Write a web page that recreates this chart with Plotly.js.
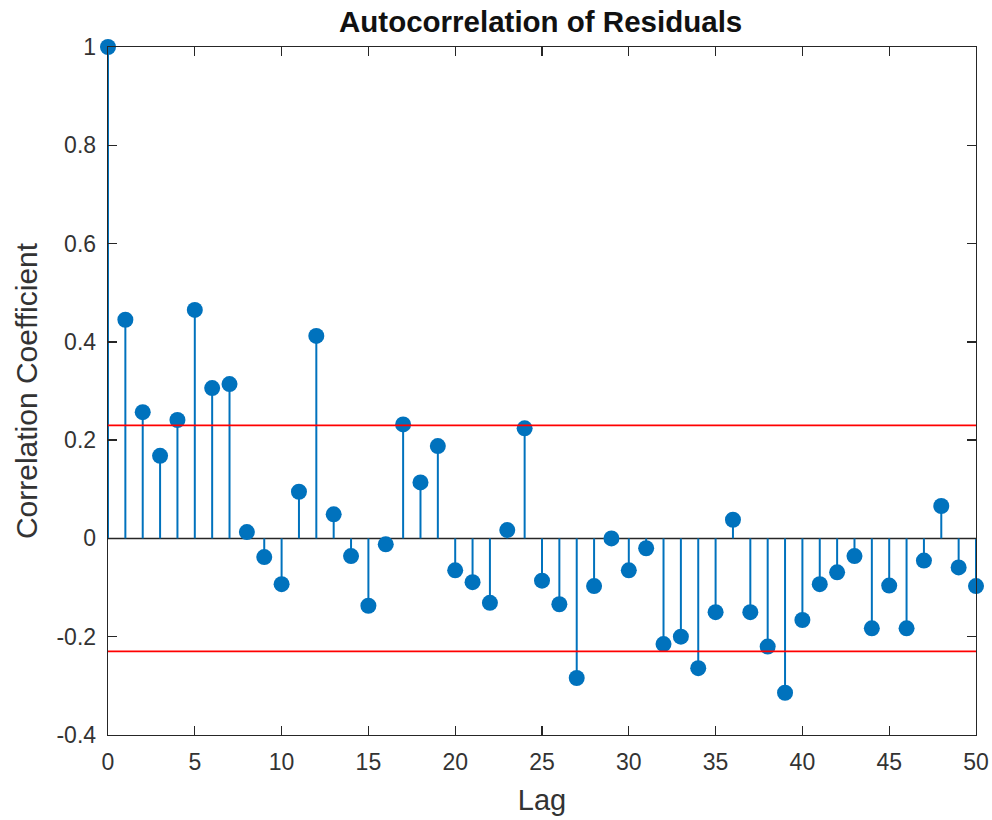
<!DOCTYPE html>
<html>
<head>
<meta charset="utf-8">
<script src="https://cdn.plot.ly/plotly-3.0.1.min.js"></script>
<style>html,body{margin:0;padding:0;background:#fff;}#chart{width:992px;height:820px;}</style>
</head>
<body>
<div id="chart"></div>
<script>
var lags = [];
for (var i = 0; i <= 50; i++) lags.push(i);
var acf = [1.000, 0.445, 0.257, 0.168, 0.241, 0.465, 0.306, 0.314, 0.013, -0.038,
           -0.093, 0.095, 0.412, 0.049, -0.036, -0.137, -0.012, 0.232, 0.114, 0.188,
           -0.065, -0.089, -0.131, 0.017, 0.224, -0.086, -0.134, -0.284, -0.097, 0.000,
           -0.065, -0.020, -0.215, -0.200, -0.264, -0.150, 0.038, -0.150, -0.220, -0.314,
           -0.166, -0.093, -0.069, -0.036, -0.183, -0.096, -0.183, -0.045, 0.066, -0.059,
           -0.097];
var confBound = 0.23;
var xTicks = [0, 5, 10, 15, 20, 25, 30, 35, 40, 45, 50];
var yTicks = [-0.4, -0.2, 0, 0.2, 0.4, 0.6, 0.8, 1];
var yTickText = ['-0.4', '-0.2', '0', '0.2', '0.4', '0.6', '0.8', '1'];

var blue = '#0072BD';
var axisCol = '#262626';

var stemX = [], stemY = [];
for (var k = 0; k < lags.length; k++) {
  stemX.push(lags[k], lags[k], null);
  stemY.push(0, acf[k], null);
}

var traces = [
  {x: stemX, y: stemY, type: 'scatter', mode: 'lines',
   line: {color: blue, width: 2}, hoverinfo: 'skip', showlegend: false, cliponaxis: false},
  {x: lags, y: acf, type: 'scatter', mode: 'markers',
   marker: {color: blue, size: 16, line: {width: 0}}, showlegend: false, cliponaxis: false}
];

var layout = {
  width: 992, height: 820,
  margin: {l: 108, r: 16, t: 47, b: 85},
  paper_bgcolor: '#fff', plot_bgcolor: '#fff',
  font: {family: 'Liberation Sans, Arial, sans-serif', color: axisCol, size: 23},
  title: {text: '<b>Autocorrelation of Residuals</b>', x: 0.545, xanchor: 'center', y: 0.973, yanchor: 'middle',
          font: {size: 29.5, color: '#111'}},
  xaxis: {range: [0, 50], tickvals: xTicks, ticktext: xTicks.map(String),
          ticks: 'inside', ticklen: 9, tickcolor: axisCol, tickwidth: 1.3,
          showline: true, linecolor: axisCol, linewidth: 1.3, mirror: 'ticks',
          showgrid: false, zeroline: false, ticklabelstandoff: 6,
          title: {text: 'Lag', font: {size: 29, color: '#333'}, standoff: 15},
          tickfont: {size: 23, color: '#333'}},
  yaxis: {range: [-0.4, 1], tickvals: yTicks, ticktext: yTickText,
          ticks: 'inside', ticklen: 9, tickcolor: axisCol, tickwidth: 1.3,
          showline: true, linecolor: axisCol, linewidth: 1.3, mirror: 'ticks',
          showgrid: false, zeroline: false, ticklabelstandoff: 6,
          title: {text: 'Correlation Coefficient', font: {size: 30, color: '#333'}, standoff: 10},
          tickfont: {size: 23, color: '#333'}},
  shapes: [
    {type: 'line', xref: 'paper', x0: 0, x1: 1, yref: 'y', y0: 0, y1: 0,
     line: {color: axisCol, width: 1.6}, layer: 'below'},
    {type: 'line', xref: 'paper', x0: 0, x1: 1, yref: 'y', y0: confBound, y1: confBound,
     line: {color: '#ff0000', width: 1.8}, layer: 'above'},
    {type: 'line', xref: 'paper', x0: 0, x1: 1, yref: 'y', y0: -confBound, y1: -confBound,
     line: {color: '#ff0000', width: 1.8}, layer: 'above'}
  ]
};

Plotly.newPlot('chart', traces, layout, {displayModeBar: false, staticPlot: true});
</script>
</body>
</html>
